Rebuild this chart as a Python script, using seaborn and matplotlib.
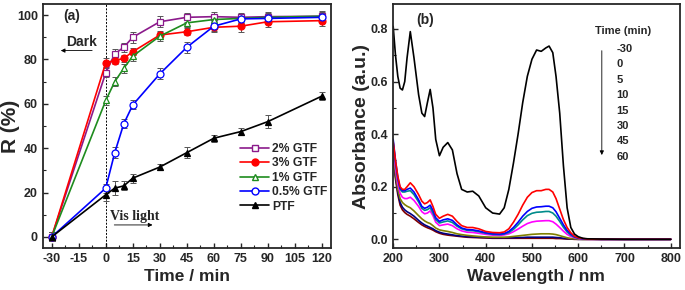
import numpy as np
import pandas as pd
import seaborn as sns
import matplotlib
matplotlib.use("Agg")
import matplotlib.pyplot as plt
from matplotlib.ticker import MultipleLocator
from matplotlib.lines import Line2D

# ---------------- Panel (a) data ----------------
time_min = [-30, 0, 5, 10, 15, 30, 45, 60, 75, 90, 120]
r_2gtf = [0, 74, 82.5, 85.5, 90, 97, 99, 99.3, 99, 99.3, 99.5]
r_3gtf = [0, 78.5, 79.5, 80.5, 83.5, 91, 92.5, 94.5, 95, 97, 97.5]
r_1gtf = [0, 61.5, 70, 76, 81.5, 90.5, 96.5, 98, 98.5, 99, 99.5]
r_05gtf = [0, 22, 38, 51, 59.5, 73.5, 85.5, 95, 98.3, 98.5, 99]
r_ptf = [0, 19, 22, 23, 26.5, 31.5, 38, 44.5, 47.5, 52, 63.5]
err_2gtf = [2, 2, 2, 2, 2.5, 2.5, 2, 2, 2, 2, 2.5]
err_3gtf = [2, 2, 1.5, 1.5, 1.5, 2, 1.5, 2, 2.5, 2.5, 2.5]
err_1gtf = [2, 2, 2, 2, 2, 2, 2, 2, 2, 2, 2]
err_05gtf = [2, 2, 2.5, 2, 2, 2.5, 2.5, 2, 2, 2, 2]
err_ptf = [2, 3, 3, 2, 2, 1.5, 2.5, 1.5, 1.5, 3, 2]
series_names = ["2% GTF", "3% GTF", "1% GTF", "0.5% GTF", "PTF"]

# ---------------- Panel (b) data ----------------
wavelength = [200, 205, 210, 215, 220, 225, 230, 237, 245, 255, 262, 268, 274, 280,
              286, 292, 300, 308, 318, 328, 338, 348, 360, 372, 385, 400, 415, 430,
              440, 450, 460, 470, 480, 490, 500, 510, 520, 530, 537, 545, 552, 560,
              568, 576, 584, 592, 600, 610, 620, 650, 700, 750, 800]
abs_m30 = [0.81, 0.70, 0.62, 0.575, 0.568, 0.60, 0.69, 0.79, 0.69, 0.55, 0.48, 0.467, 0.52, 0.57,
           0.50, 0.38, 0.318, 0.35, 0.368, 0.34, 0.25, 0.19, 0.18, 0.183, 0.165, 0.12, 0.10, 0.096,
           0.12, 0.19, 0.29, 0.40, 0.52, 0.62, 0.685, 0.72, 0.715, 0.728, 0.735, 0.71, 0.62, 0.48,
           0.28, 0.12, 0.045, 0.02, 0.01, 0.004, 0.002, 0.001, 0.0, 0.0, 0.0]
abs_0 = [0.37, 0.30, 0.24, 0.20, 0.19, 0.19, 0.20, 0.215, 0.20, 0.17, 0.145, 0.135, 0.14, 0.15,
         0.125, 0.095, 0.08, 0.088, 0.095, 0.088, 0.068, 0.052, 0.045, 0.045, 0.04, 0.03, 0.026, 0.025,
         0.028, 0.04, 0.065, 0.095, 0.13, 0.16, 0.178, 0.185, 0.185, 0.19, 0.19, 0.18, 0.155, 0.115,
         0.075, 0.045, 0.025, 0.012, 0.006, 0.003, 0.001, 0.0, 0.0, 0.0, 0.0]
abs_5 = [0.38, 0.30, 0.235, 0.195, 0.185, 0.185, 0.19, 0.195, 0.18, 0.15, 0.125, 0.118, 0.122, 0.13,
         0.11, 0.082, 0.068, 0.074, 0.078, 0.072, 0.055, 0.043, 0.037, 0.036, 0.032, 0.025, 0.021, 0.02,
         0.022, 0.03, 0.045, 0.065, 0.088, 0.106, 0.118, 0.123, 0.124, 0.126, 0.126, 0.12, 0.105, 0.08,
         0.055, 0.034, 0.02, 0.01, 0.005, 0.002, 0.001, 0.0, 0.0, 0.0, 0.0]
abs_10 = [0.37, 0.29, 0.23, 0.19, 0.18, 0.18, 0.183, 0.185, 0.17, 0.142, 0.118, 0.11, 0.113, 0.12,
          0.10, 0.075, 0.062, 0.066, 0.07, 0.064, 0.05, 0.04, 0.034, 0.033, 0.029, 0.023, 0.019, 0.018,
          0.02, 0.026, 0.038, 0.055, 0.074, 0.09, 0.099, 0.103, 0.104, 0.106, 0.106, 0.10, 0.088, 0.068,
          0.046, 0.028, 0.016, 0.008, 0.004, 0.002, 0.001, 0.0, 0.0, 0.0, 0.0]
abs_15 = [0.35, 0.27, 0.21, 0.175, 0.16, 0.155, 0.155, 0.16, 0.148, 0.125, 0.105, 0.097, 0.10, 0.108,
          0.09, 0.065, 0.052, 0.055, 0.058, 0.052, 0.04, 0.032, 0.027, 0.026, 0.023, 0.019, 0.016, 0.015,
          0.017, 0.021, 0.029, 0.039, 0.05, 0.06, 0.066, 0.069, 0.07, 0.071, 0.071, 0.067, 0.058, 0.045,
          0.031, 0.019, 0.011, 0.006, 0.003, 0.001, 0.0, 0.0, 0.0, 0.0, 0.0]
abs_30 = [0.33, 0.25, 0.19, 0.155, 0.14, 0.132, 0.126, 0.12, 0.108, 0.09, 0.078, 0.07, 0.064, 0.06,
          0.052, 0.043, 0.036, 0.033, 0.03, 0.026, 0.021, 0.018, 0.015, 0.013, 0.011, 0.009, 0.008, 0.008,
          0.008, 0.009, 0.011, 0.013, 0.015, 0.017, 0.019, 0.02, 0.021, 0.021, 0.021, 0.02, 0.018, 0.014,
          0.01, 0.006, 0.003, 0.002, 0.001, 0.0, 0.0, 0.0, 0.0, 0.0, 0.0]
abs_45 = [0.32, 0.24, 0.18, 0.14, 0.122, 0.112, 0.105, 0.098, 0.088, 0.072, 0.062, 0.055, 0.05, 0.045,
          0.04, 0.033, 0.027, 0.023, 0.02, 0.017, 0.014, 0.012, 0.01, 0.009, 0.008, 0.007, 0.006, 0.006,
          0.006, 0.006, 0.006, 0.007, 0.007, 0.008, 0.008, 0.008, 0.008, 0.008, 0.008, 0.008, 0.007, 0.006,
          0.004, 0.003, 0.002, 0.001, 0.0, 0.0, 0.0, 0.0, 0.0, 0.0, 0.0]
abs_60 = [0.31, 0.23, 0.17, 0.13, 0.112, 0.102, 0.095, 0.088, 0.078, 0.064, 0.055, 0.049, 0.044, 0.04,
          0.035, 0.029, 0.023, 0.019, 0.016, 0.014, 0.012, 0.01, 0.008, 0.007, 0.006, 0.005, 0.004, 0.004,
          0.004, 0.004, 0.004, 0.004, 0.004, 0.004, 0.004, 0.004, 0.004, 0.004, 0.004, 0.004, 0.003, 0.003,
          0.002, 0.001, 0.001, 0.0, 0.0, 0.0, 0.0, 0.0, 0.0, 0.0, 0.0]
spectra_times = ["-30", "0", "5", "10", "15", "30", "45", "60"]

# ---------------- style ----------------
sns.set_style("ticks")
plt.rcParams["font.family"] = ["Liberation Sans", "DejaVu Sans"]
plt.rcParams["font.weight"] = "bold"
plt.rcParams["axes.linewidth"] = 1.3
plt.rcParams["axes.unicode_minus"] = False
plt.rcParams["xtick.direction"] = "in"
plt.rcParams["ytick.direction"] = "in"

fig = plt.figure(figsize=(6.85, 2.9), dpi=100)
axa = fig.add_axes([0.0623, 0.1448, 0.4209, 0.8414])
axb = fig.add_axes([0.5733, 0.1448, 0.4194, 0.8414])

# ---------------- Panel (a) ----------------
df_a = pd.DataFrame({
    "time": time_min * 5,
    "R": r_2gtf + r_3gtf + r_1gtf + r_05gtf + r_ptf,
    "err": err_2gtf + err_3gtf + err_1gtf + err_05gtf + err_ptf,
    "series": sum([[n] * len(time_min) for n in series_names], []),
})
colors_a = {"2% GTF": "#8B1A8B", "3% GTF": "#FF0000", "1% GTF": "#1E8C1E",
            "0.5% GTF": "#0000FF", "PTF": "#000000"}
markers_a = {"2% GTF": "s", "3% GTF": "o", "1% GTF": "^", "0.5% GTF": "o", "PTF": "^"}
face_a = {"2% GTF": "white", "3% GTF": "#FF0000", "1% GTF": "white",
          "0.5% GTF": "white", "PTF": "#000000"}

for name in series_names:
    sub = df_a[df_a.series == name]
    axa.errorbar(sub["time"], sub["R"], yerr=sub["err"], fmt="none",
                 ecolor="#555555", elinewidth=0.7, capsize=2.2, capthick=0.7, zorder=2)

sns.lineplot(data=df_a, x="time", y="R", hue="series", style="series",
             palette=colors_a, markers=markers_a, dashes=False,
             hue_order=series_names, style_order=series_names,
             linewidth=1.2, markersize=5, ax=axa, zorder=3, legend=False)
for line, name in zip(axa.get_lines()[-5:], series_names):
    line.set_markerfacecolor(face_a[name])
    line.set_markeredgecolor(colors_a[name])
    line.set_markeredgewidth(0.9)

handles = [Line2D([], [], color=colors_a[n], marker=markers_a[n], markersize=5,
                  markerfacecolor=face_a[n], markeredgecolor=colors_a[n], lw=1.2)
           for n in series_names]
axa.legend(handles, series_names, loc="upper left", bbox_to_anchor=(0.665, 0.455),
           frameon=False, handlelength=2.4, handletextpad=0.2, labelspacing=0.2,
           borderpad=0.0, prop={"size": 8.7, "weight": "bold"})

axa.axvline(0, color="black", lw=0.7, ls=(0, (2, 1.5)), zorder=1)
axa.set_xlim(-35, 125)
axa.set_ylim(-5, 105)
axa.set_xticks([-30, -15, 0, 15, 30, 45, 60, 75, 90, 105, 120])
axa.xaxis.set_minor_locator(MultipleLocator(7.5))
axa.yaxis.set_major_locator(MultipleLocator(20))
axa.yaxis.set_minor_locator(MultipleLocator(10))
axa.tick_params(which="major", length=3.5, width=1.0, labelsize=9)
axa.tick_params(which="minor", length=2, width=0.8)
for lab in axa.get_xticklabels() + axa.get_yticklabels():
    lab.set_fontweight("bold")
axa.set_xlabel("Time / min", fontsize=12.5, fontweight="bold")
axa.set_ylabel("R (%)", fontsize=15, fontweight="bold")
axa.xaxis.set_label_coords(0.5, -0.088)
axa.yaxis.set_label_coords(-0.079, 0.5)

axa.text(-19, 99.7, "(a)", ha="center", va="center", fontsize=10, fontweight="bold")
axa.text(-13.5, 88, "Dark", ha="center", va="center", fontsize=10, fontweight="bold",
         family=["Liberation Sans", "DejaVu Sans"])
axa.annotate("", xy=(-26.5, 84), xytext=(-6, 84),
             arrowprops=dict(arrowstyle="-|>", color="black", lw=0.6, mutation_scale=6))
axa.text(16, 9.4, "Vis light", ha="center", va="center", fontsize=10, fontweight="bold",
         family=["Liberation Serif", "DejaVu Serif"])
axa.annotate("", xy=(27.5, 5.4), xytext=(3.2, 5.4),
             arrowprops=dict(arrowstyle="-|>", color="black", lw=0.6, mutation_scale=6))

# ---------------- Panel (b) ----------------
all_abs = [abs_m30, abs_0, abs_5, abs_10, abs_15, abs_30, abs_45, abs_60]
df_b = pd.DataFrame({
    "wl": wavelength * len(spectra_times),
    "A": sum(all_abs, []),
    "t": sum([[t] * len(wavelength) for t in spectra_times], []),
})
colors_b = ["#000000", "#FF0000", "#0000FF", "#008B8B", "#FF00FF", "#808000",
            "#000080", "#800000"]
order_draw = spectra_times[::-1]
pal_b = dict(zip(spectra_times, colors_b))
sns.lineplot(data=df_b, x="wl", y="A", hue="t", hue_order=order_draw,
             palette=pal_b, linewidth=1.2, ax=axb, legend=False, sort=True)

axb.set_xlim(199, 820)
axb.set_ylim(-0.033, 0.895)
axb.xaxis.set_major_locator(MultipleLocator(100))
axb.xaxis.set_minor_locator(MultipleLocator(50))
axb.yaxis.set_major_locator(MultipleLocator(0.2))
axb.yaxis.set_minor_locator(MultipleLocator(0.1))
axb.yaxis.set_major_formatter(matplotlib.ticker.FormatStrFormatter("%.1f"))
axb.tick_params(which="major", length=3.5, width=1.0, labelsize=9)
axb.tick_params(which="minor", length=2, width=0.8)
for lab in axb.get_xticklabels() + axb.get_yticklabels():
    lab.set_fontweight("bold")
axb.set_xlabel("Wavelength / nm", fontsize=12.5, fontweight="bold")
axb.set_ylabel("Absorbance (a.u.)", fontsize=14, fontweight="bold")
axb.xaxis.set_label_coords(0.5, -0.088)
axb.yaxis.set_label_coords(-0.079, 0.5)

axb.text(268, 0.835, "(b)", ha="center", va="center", fontsize=10, fontweight="bold")
axb.text(697, 0.792, "Time (min)", ha="center", va="center", fontsize=8, fontweight="bold")
for i, t in enumerate(spectra_times):
    axb.text(683, 0.724 - i * 0.0586, t, ha="left", va="center", fontsize=8, fontweight="bold")
axb.annotate("", xy=(651, 0.31), xytext=(651, 0.728),
             arrowprops=dict(arrowstyle="-|>", color="black", lw=0.6, mutation_scale=6))

fig.savefig("out.png", dpi=100)
